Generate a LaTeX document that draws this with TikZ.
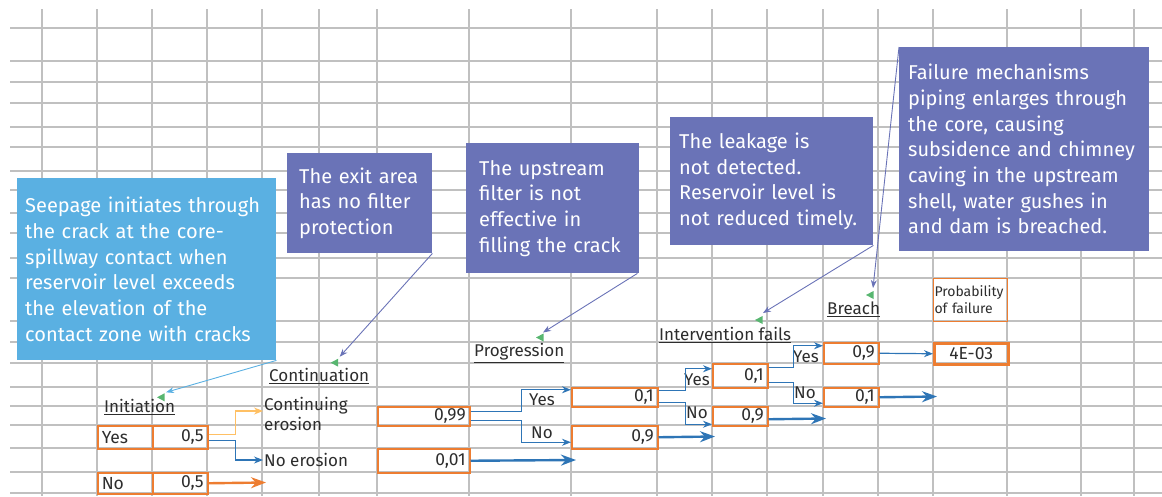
\documentclass[tikz,border=0pt]{standalone}
\usepackage{fontspec}
\setmainfont{Fira Sans}
\usetikzlibrary{arrows.meta}
\definecolor{gridgray}{RGB}{192,192,192}
\definecolor{seepblue}{RGB}{90,176,226}
\definecolor{notepurple}{RGB}{106,115,183}
\definecolor{cellorange}{RGB}{237,125,49}
\definecolor{lineblue}{RGB}{46,117,182}
\definecolor{lineyellow}{RGB}{255,192,100}
\definecolor{flaggreen}{RGB}{88,182,112}
\definecolor{textgray}{RGB}{45,45,45}

\begin{document}
\begin{tikzpicture}[x=1pt,y=-1pt,
  notebox/.style={fill=#1, text=white, anchor=north west, align=left, inner ysep=0pt, font=\fontsize{20}{25.7}\selectfont},
  cell/.style={draw=cellorange, line width=1.5pt, anchor=north west, inner xsep=4pt, inner ysep=0pt, align=right, text=textgray, font=\fontsize{17.5}{20}\selectfont},
  heading/.style={anchor=west, inner sep=1pt, text=textgray, font=\fontsize{17}{19.5}\selectfont},
  branch/.style={lineblue, line width=1.2pt, -{Stealth[length=9pt,width=7pt]}},
  bigarrow/.style={lineblue, line width=2.4pt, -{Stealth[length=15pt,width=11pt]}},
  callout/.style={line width=0.9pt, -{Stealth[length=8pt,width=6pt]}}]

            \useasboundingbox (0,0) rectangle (1162,496);

            \foreach \x in {42,97,152,207,262,319,377,469,571,657,712,767,823,878,933,1007,1081,1134}
                \draw[gridgray, line width=1.3pt] (\x,9) -- (\x,496);
            \foreach \y in {28,61,82,103,127,147,171,190,213,233,258,278,321,342,363,387,406,425,448,472,493}
                \draw[gridgray, line width=1.3pt] (10,\y) -- (1162,\y);

            \node[notebox=seepblue, text width=243pt, inner xsep=8pt, minimum height=182pt] (seep) at (17,178) {Seepage initiates through\\the crack at the core-\\spillway contact when\\reservoir level exceeds\\the elevation of the\\contact zone with cracks};
            \node[notebox=notepurple, text width=121pt, inner xsep=12pt, minimum height=100pt] (exit) at (287,153) {The exit area\\has no filter\\protection};
            \node[notebox=notepurple, text width=147pt, inner xsep=13pt, minimum height=130pt] (filter) at (466,143) {The upstream\\filter is not\\effective in\\filling the crack};
            \node[notebox=notepurple, text width=185pt, inner xsep=9pt, minimum height=128pt] (leak) at (670,117) {The leakage is\\not detected.\\Reservoir level is\\not reduced timely.};
            \node[notebox=notepurple, text width=232pt, inner xsep=9pt, minimum height=204pt] (fail) at (899,47) {Failure mechanisms\\piping enlarges through\\the core, causing\\subsidence and chimney\\caving in the upstream\\shell, water gushes in\\and dam is breached.};

            \node[heading] (init) at (103,407) {\underline{Initiation}};
            \node[heading] (cont) at (268,376) {\underline{Continuation}};
            \node[heading] (prog) at (473,353) {\underline{Progression}};
            \node[heading] (interv) at (658,335) {\underline{Intervention fails}};
            \node[heading] (breach) at (826,309) {\underline{Breach}};
            \node[heading, align=left] (ero) at (263,414) {Continuing\\erosion};
            \node[heading] (noero) at (263,460) {No erosion};

            \node[cell, line width=1pt, align=left, inner xsep=1pt, text width=72pt, minimum height=43pt, font=\fontsize{14}{17}\selectfont] (pfhead) at (933,278) {Probability\\of failure};

            \node[cell, align=left, text width=47pt, minimum height=23pt] (iy) at (97,425) {Yes};
            \node[cell, text width=47pt, minimum height=23pt] (iyv) at (152,425) {0,5};
            \node[cell, align=left, text width=47pt, minimum height=21pt] (in) at (97,472) {No};
            \node[cell, text width=47pt, minimum height=21pt] (inv) at (152,472) {0,5};
            \node[cell, text width=84pt, minimum height=19pt] (c99) at (377,406) {0,99};
            \node[cell, text width=84pt, minimum height=24pt] (c01) at (377,448) {0,01};
            \node[cell, text width=78pt, minimum height=19pt] (py) at (571,387) {0,1};
            \node[cell, text width=78pt, minimum height=23pt] (pn) at (571,425) {0,9};
            \node[cell, text width=47pt, minimum height=24pt] (fy) at (712,363) {0,1};
            \node[cell, text width=47pt, minimum height=19pt] (fn) at (712,406) {0,9};
            \node[cell, text width=47pt, minimum height=21pt] (by) at (823,342) {0,9};
            \node[cell, text width=47pt, minimum height=19pt] (bn) at (823,387) {0,1};
            \node[cell, line width=2.5pt, align=center, text width=66pt, minimum height=21pt] (pf) at (933,342) {4E-03};

            \node[heading] (y1) at (528,400) {Yes};
            \node[heading] (n1) at (530,433) {No};
            \node[heading] (y2) at (683,380) {Yes};
            \node[heading] (n2) at (685,412.5) {No};
            \node[heading] (y3) at (792,357) {Yes};
            \node[heading] (n3) at (793,392.5) {No};

            \coordinate (e1) at (266,482.5);
            \coordinate (e2) at (576,460);
            \coordinate (e3) at (715,436.5);
            \coordinate (e4) at (826,418.5);
            \coordinate (e5) at (937,396.5);

            \draw[branch, lineyellow] ([yshift=2.5pt]iyv.east) -- ++(27,0) |- ([yshift=3pt]ero.west);
            \draw[branch] ([yshift=-3.5pt]iyv.east) -- ++(27,0) |- (noero.west);
            \draw[bigarrow, cellorange] (inv.east) -- (e1);

            \draw[branch] ([yshift=5pt]c99.east) -- ++(51,0) |- ([yshift=7.5pt]py.west);
            \draw[branch] ([yshift=-4.5pt]c99.east) -- ++(51,0) |- ([yshift=-5pt]pn.west);
            \draw[bigarrow] (c01.east) -- (e2);

            \draw[branch] ([yshift=7pt]py.east) -- ++(27,0) |- ([yshift=7pt]fy.west);
            \draw[branch] ([yshift=-5pt]py.east) -- ++(27,0) |- ([yshift=-8pt]fn.west);
            \draw[bigarrow] (pn.east) -- (e3);

            \draw[branch] ([yshift=8pt]fy.east) -- ++(25,0) |- ([yshift=7.5pt]by.west);
            \draw[branch] ([yshift=-6.5pt]fy.east) -- ++(25,0) |- ([yshift=-6pt]bn.west);
            \draw[bigarrow] ([yshift=-3pt]fn.east) -- (e4);

            \draw[branch] (by.east) -- (pf.west);
            \draw[bigarrow] (bn.east) -- (e5);

            \coordinate (m1) at (157,397.3);
            \coordinate (m2) at (330.7,362.7);
            \coordinate (m3) at (536,337.5);
            \coordinate (m4) at (755,320);
            \coordinate (m5) at (866,295);
            \foreach \m in {m1,m2,m3,m4,m5}
                \fill[flaggreen] (\m) -- ++(7.5,4) -- ++(0,-8) -- cycle;

            \draw[callout, seepblue] (seep.south east) -- ([shift={(9,-5)}]m1);
            \draw[callout, notepurple] (exit.south east) -- ([shift={(9,-6)}]m2);
            \draw[callout, notepurple] ([xshift=-2pt]filter.south east) -- ([shift={(7,-5)}]m3);
            \draw[callout, notepurple] (leak.south east) -- ([shift={(8,-7)}]m4);
            \draw[callout, notepurple] (fail.north west) -- ([shift={(7,-7)}]m5);

        \end{tikzpicture}
\end{document}
